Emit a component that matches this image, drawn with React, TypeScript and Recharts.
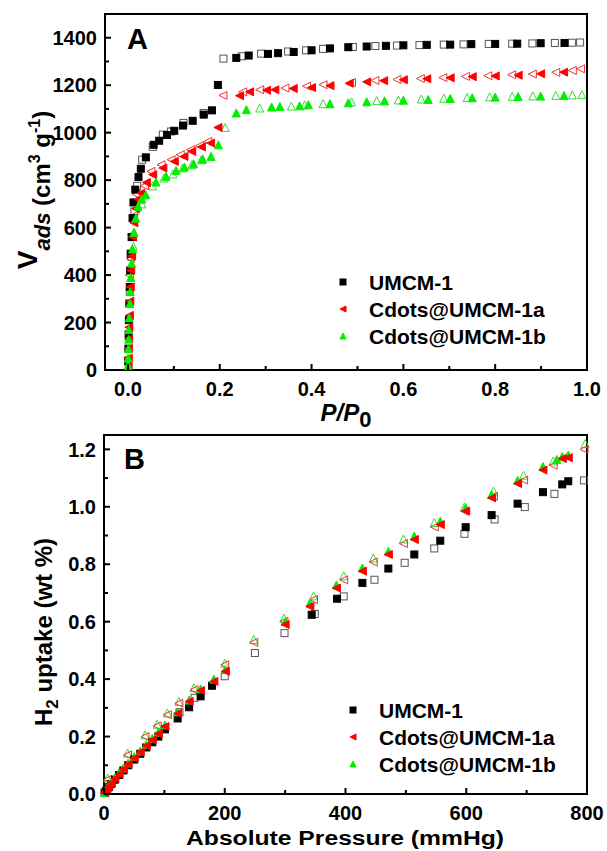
import React from 'react';
import {
  ScatterChart, Scatter, XAxis, YAxis, ReferenceArea, Legend
} from 'recharts';

const FONT = '"Liberation Sans", Arial, Helvetica, sans-serif';

const COLORS = {
  black: '#000000',
  blackOpen: '#555555',
  red: '#ff0000',
  redOpen: '#ee3333',
  green: '#00ee00',
  greenOpen: '#33dd33',
};

// ---- Panel A: N2 isotherm (P/P0, cm3 g-1) ----
const isoUmcmAds: [number, number][] = [
  [0.0005, 40], [0.001, 90], [0.0015, 150], [0.002, 210], [0.003, 280], [0.004, 350], [0.005, 420],
  [0.006, 490], [0.008, 560], [0.010, 640], [0.012, 706], [0.016, 760], [0.023, 813], [0.028, 848],
  [0.039, 896], [0.056, 949], [0.068, 966], [0.085, 990], [0.101, 1008], [0.12, 1030], [0.141, 1050],
  [0.165, 1076], [0.183, 1094], [0.196, 1201], [0.236, 1315], [0.263, 1325], [0.305, 1332], [0.327, 1335],
  [0.361, 1340], [0.40, 1347], [0.44, 1355], [0.48, 1360], [0.52, 1363], [0.562, 1366], [0.60, 1368],
  [0.651, 1370], [0.702, 1371], [0.748, 1373], [0.80, 1374], [0.848, 1375], [0.899, 1377], [0.951, 1378],
];
const isoUmcmDes: [number, number][] = [
  [0.985, 1380], [0.967, 1379], [0.93, 1378], [0.881, 1376], [0.837, 1375], [0.786, 1374], [0.731, 1372],
  [0.688, 1371], [0.635, 1369], [0.586, 1367], [0.539, 1365], [0.49, 1361], [0.425, 1353], [0.388, 1347],
  [0.349, 1342], [0.29, 1333], [0.248, 1322], [0.208, 1312], [0.165, 1083], [0.121, 1041], [0.094, 1005],
  [0.076, 992], [0.054, 940], [0.031, 886], [0.020, 776], [0.014, 668], [0.007, 478], [0.004, 330],
];
const isoAAds: [number, number][] = [
  [0.0003, 20], [0.0006, 50], [0.001, 90], [0.0015, 130], [0.002, 180], [0.003, 230], [0.004, 290],
  [0.005, 350], [0.006, 420], [0.008, 480], [0.010, 560], [0.013, 620], [0.017, 680], [0.022, 720],
  [0.028, 745], [0.04, 790], [0.054, 823], [0.076, 851], [0.101, 879], [0.122, 900], [0.139, 921],
  [0.16, 940], [0.18, 956], [0.196, 1022], [0.243, 1156], [0.265, 1172], [0.302, 1179], [0.32, 1181],
  [0.36, 1186], [0.40, 1190], [0.44, 1198], [0.482, 1208], [0.52, 1214], [0.557, 1219], [0.60, 1223],
  [0.651, 1227], [0.702, 1231], [0.75, 1236], [0.80, 1239], [0.85, 1242], [0.899, 1248], [0.949, 1255],
];
const isoADes: [number, number][] = [
  [0.986, 1269], [0.968, 1262], [0.932, 1254], [0.881, 1247], [0.836, 1244], [0.784, 1240], [0.735, 1237],
  [0.686, 1232], [0.637, 1228], [0.586, 1224], [0.538, 1220], [0.487, 1211], [0.425, 1202], [0.389, 1196],
  [0.342, 1188], [0.287, 1181], [0.25, 1172], [0.207, 1157], [0.174, 963], [0.156, 945], [0.136, 928],
  [0.114, 907], [0.094, 886], [0.072, 865], [0.05, 837], [0.036, 776], [0.018, 740], [0.012, 650],
  [0.008, 570], [0.005, 470], [0.003, 400],
];
const isoBAds: [number, number][] = [
  [0.0003, 20], [0.0006, 50], [0.001, 90], [0.0015, 130], [0.002, 170], [0.003, 220], [0.004, 280],
  [0.005, 330], [0.006, 390], [0.008, 450], [0.010, 510], [0.013, 580], [0.017, 640], [0.022, 690],
  [0.03, 720], [0.039, 738], [0.061, 792], [0.083, 816], [0.105, 841], [0.123, 855], [0.143, 869],
  [0.163, 889], [0.181, 900], [0.197, 949], [0.236, 1083], [0.258, 1097], [0.313, 1108], [0.331, 1110],
  [0.374, 1113], [0.393, 1118], [0.44, 1122], [0.48, 1126], [0.52, 1130], [0.559, 1134], [0.60, 1137],
  [0.654, 1140], [0.702, 1144], [0.75, 1147], [0.80, 1150], [0.85, 1152], [0.899, 1154], [0.95, 1157],
];
const isoBDes: [number, number][] = [
  [0.989, 1160], [0.968, 1159], [0.932, 1157], [0.882, 1155], [0.837, 1153], [0.788, 1151], [0.739, 1148],
  [0.688, 1145], [0.639, 1142], [0.589, 1138], [0.542, 1135], [0.487, 1130], [0.425, 1122], [0.385, 1117],
  [0.356, 1112], [0.287, 1104], [0.212, 1022], [0.16, 886], [0.139, 865], [0.119, 851], [0.098, 826],
  [0.078, 809], [0.054, 776], [0.03, 700], [0.012, 520], [0.006, 420],
];

// ---- Panel B: H2 uptake (mmHg, wt %) ----
const h2UmcmAds: [number, number][] = [
  [1, 0.004], [3, 0.01], [5, 0.016], [8, 0.024], [12, 0.035], [18, 0.05], [25, 0.066], [32, 0.082],
  [40, 0.1], [50, 0.12], [60, 0.14], [70, 0.162], [80, 0.18], [90, 0.2], [101, 0.225], [122, 0.263],
  [141, 0.302], [160, 0.34], [179, 0.377], [344, 0.624], [386, 0.68], [428, 0.735], [471, 0.785],
  [514, 0.834], [557, 0.882], [599, 0.929], [642, 0.971], [685, 1.011], [727, 1.051], [759, 1.078], [769, 1.089],
];
const h2UmcmDes: [number, number][] = [
  [795, 1.092], [746, 1.045], [697, 0.999], [647, 0.956], [597, 0.906], [547, 0.855], [498, 0.805],
  [448, 0.746], [397, 0.688], [349, 0.627], [299, 0.56], [250, 0.491], [200, 0.41], [150, 0.335], [125, 0.285],
];
const h2AAds: [number, number][] = [
  [1, 0.004], [3, 0.012], [5, 0.02], [8, 0.028], [12, 0.038], [18, 0.054], [25, 0.07], [32, 0.086],
  [40, 0.104], [50, 0.125], [60, 0.146], [70, 0.168], [80, 0.188], [90, 0.21], [101, 0.235], [122, 0.281],
  [141, 0.322], [160, 0.36], [182, 0.392], [201, 0.427], [300, 0.59], [341, 0.653], [385, 0.717],
  [428, 0.776], [471, 0.834], [514, 0.886], [557, 0.938], [599, 0.985], [642, 1.031], [685, 1.081],
  [727, 1.128], [759, 1.168], [769, 1.171],
];
const h2ADes: [number, number][] = [
  [795, 1.2], [744, 1.145], [695, 1.093], [645, 1.037], [597, 0.985], [547, 0.93], [496, 0.872],
  [446, 0.808], [397, 0.746], [347, 0.677], [298, 0.601], [248, 0.528], [200, 0.45], [149, 0.363],
  [124, 0.316], [105, 0.276], [88, 0.237], [68, 0.2], [39, 0.136], [6, 0.051],
];
const h2BAds: [number, number][] = [
  [1, 0.005], [3, 0.014], [5, 0.022], [8, 0.031], [12, 0.041], [18, 0.057], [25, 0.074], [32, 0.09],
  [40, 0.108], [50, 0.13], [60, 0.15], [70, 0.172], [80, 0.193], [90, 0.215], [101, 0.24], [122, 0.286],
  [141, 0.327], [160, 0.366], [182, 0.4], [201, 0.433], [300, 0.6], [341, 0.665], [385, 0.728],
  [428, 0.787], [471, 0.845], [514, 0.898], [557, 0.95], [599, 0.997], [642, 1.043], [685, 1.092],
  [727, 1.14], [750, 1.165], [759, 1.175], [769, 1.18],
];
const h2BDes: [number, number][] = [
  [797, 1.22], [744, 1.16], [695, 1.11], [645, 1.055], [597, 1.0], [547, 0.945], [496, 0.888],
  [446, 0.822], [397, 0.76], [347, 0.69], [298, 0.612], [248, 0.538], [200, 0.455], [149, 0.37],
  [124, 0.322], [105, 0.282], [88, 0.243], [68, 0.206], [39, 0.142], [6, 0.056],
];

const seriesNames = ['UMCM-1', 'Cdots@UMCM-1a', 'Cdots@UMCM-1b'];

const isoXTicks = [0, 0.1, 0.2, 0.3, 0.4, 0.5, 0.6, 0.7, 0.8, 0.9, 1.0];
const isoYTicks = [0, 100, 200, 300, 400, 500, 600, 700, 800, 900, 1000, 1100, 1200, 1300, 1400];
const h2XTicks = [0, 100, 200, 300, 400, 500, 600, 700, 800];
const h2YTicks = [0, 0.1, 0.2, 0.3, 0.4, 0.5, 0.6, 0.7, 0.8, 0.9, 1.0, 1.1, 1.2];

const toPts = (arr: [number, number][]) => arr.map(([x, y]) => ({ x, y }));

type Kind = 'square' | 'left' | 'up';

const Marker = ({ cx, cy, kind, color, filled, s }: any) => {
  if (cx == null || cy == null) return null;
  const h = s / 2;
  const common = {
    fill: filled ? color : 'none',
    stroke: color,
    strokeWidth: 1,
  };
  if (kind === 'square') return <rect x={cx - h} y={cy - h} width={s} height={s} {...common} />;
  if (kind === 'left') return <polygon points={`${cx - h},${cy} ${cx + h},${cy - h} ${cx + h},${cy + h}`} {...common} />;
  return <polygon points={`${cx},${cy - h} ${cx - h},${cy + h} ${cx + h},${cy + h}`} {...common} />;
};

const shape = (kind: Kind, color: string, filled: boolean, s: number) =>
  (props: any) => <Marker cx={props.cx} cy={props.cy} kind={kind} color={color} filled={filled} s={s} />;

const makeXTick = (isMajor: (v: number) => boolean, fmt: (v: number) => string) => (props: any) => {
  const { x, y, payload } = props;
  const v = payload.value;
  const major = isMajor(v);
  return (
    <g>
      <line x1={x} y1={y} x2={x} y2={y - (major ? 6 : 4)} stroke="#000" strokeWidth={2} />
      {major && (
        <text x={x} y={y + 26} textAnchor="middle" fontFamily={FONT} fontWeight="bold" fontSize={20} fill="#000">
          {fmt(v)}
        </text>
      )}
    </g>
  );
};

const makeYTick = (isMajor: (v: number) => boolean, fmt: (v: number) => string) => (props: any) => {
  const { x, y, payload } = props;
  const v = payload.value;
  const major = isMajor(v);
  return (
    <g>
      <line x1={x} y1={y} x2={x + (major ? 6 : 4)} y2={y} stroke="#000" strokeWidth={2} />
      {major && (
        <text x={x - 8} y={y} dy="0.36em" textAnchor="end" fontFamily={FONT} fontWeight="bold" fontSize={20} fill="#000">
          {fmt(v)}
        </text>
      )}
    </g>
  );
};

const LegendBox = () => {
  const kinds: Kind[] = ['square', 'left', 'up'];
  const cols = [COLORS.black, COLORS.red, COLORS.green];
  return (
    <svg width={250} height={84}>
      {seriesNames.map((n, i) => (
        <g key={n}>
          <Marker cx={13} cy={14 + i * 27} kind={kinds[i]} color={cols[i]} filled s={6} />
          <text x={39} y={14 + i * 27} dy="0.36em" fontFamily={FONT} fontWeight="bold" fontSize={21} fill="#000">{n}</text>
        </g>
      ))}
    </svg>
  );
};

const textStyle = { fontFamily: FONT, fontWeight: 'bold' as const, fill: '#000' };

const IsothermChart = () => (
  <ScatterChart width={607} height={440} margin={{ top: 14, right: 20, bottom: 0, left: 0 }}>
    <XAxis
      type="number" dataKey="x" domain={[-0.05, 1.0]} ticks={isoXTicks} interval={0}
      tickSize={0} tickMargin={0} axisLine={false} tickLine={false}
      tick={makeXTick((v) => Math.round(v * 10) % 2 === 0, (v) => v.toFixed(1))}
      height={70}
      label={{
        content: () => (
          <text x={346} y={421} textAnchor="middle" {...textStyle} fontSize={24}>
            <tspan fontStyle="italic">P/P</tspan>
            <tspan dy={6} fontSize={22}>0</tspan>
          </text>
        ),
      }}
    />
    <YAxis
      type="number" dataKey="y" domain={[0, 1500]} ticks={isoYTicks} interval={0}
      tickSize={0} tickMargin={0} axisLine={false} tickLine={false}
      tick={makeYTick((v) => v % 200 === 0, (v) => String(v))}
      width={105}
      label={{
        content: () => (
          <text transform="translate(50,190) rotate(-90)" x={0} y={0} textAnchor="middle" {...textStyle} fontSize={24}>
            <tspan fontSize={28} dy={-13}>V</tspan>
            <tspan fontStyle="italic" fontSize={22} dy={13}>ads</tspan>
            <tspan> (cm</tspan>
            <tspan fontSize={16} dy={-10}>3</tspan>
            <tspan dy={10}> g</tspan>
            <tspan fontSize={16} dy={-10}>-1</tspan>
            <tspan dy={10}>)</tspan>
          </text>
        ),
      }}
    />
    <ReferenceArea x1={-0.05} x2={1.0} y1={0} y2={1500} fill="none" stroke="#000" strokeWidth={2} ifOverflow="visible"
      label={{ content: () => <text x={127} y={49} {...textStyle} fontSize={29}>A</text> }} />
    <Legend layout="horizontal" verticalAlign="middle" align="center" content={() => <LegendBox />}
      wrapperStyle={{ position: 'absolute', left: 330, top: 268, width: 250, height: 84 }} />
    <Scatter name={seriesNames[0]} data={toPts(isoUmcmDes)} shape={shape('square', COLORS.blackOpen, false, 7)} isAnimationActive={false} legendType="none" />
    <Scatter name={seriesNames[1]} data={toPts(isoADes)} shape={shape('left', COLORS.redOpen, false, 8)} isAnimationActive={false} legendType="none" />
    <Scatter name={seriesNames[2]} data={toPts(isoBDes)} shape={shape('up', COLORS.greenOpen, false, 8)} isAnimationActive={false} legendType="none" />
    <Scatter name={seriesNames[0]} data={toPts(isoUmcmAds)} shape={shape('square', COLORS.black, true, 7)} isAnimationActive={false} />
    <Scatter name={seriesNames[1]} data={toPts(isoAAds)} shape={shape('left', COLORS.red, true, 8)} isAnimationActive={false} />
    <Scatter name={seriesNames[2]} data={toPts(isoBAds)} shape={shape('up', COLORS.green, true, 8)} isAnimationActive={false} />
  </ScatterChart>
);

const H2Chart = () => (
  <ScatterChart width={607} height={451} margin={{ top: 35, right: 20, bottom: 0, left: 0 }}>
    <XAxis
      type="number" dataKey="x" domain={[0, 800]} ticks={h2XTicks} interval={0}
      tickSize={0} tickMargin={0} axisLine={false} tickLine={false}
      tick={makeXTick((v) => v % 200 === 0, (v) => String(v))}
      height={57}
      label={{
        content: () => (
          <text x={345} y={445} textAnchor="middle" {...textStyle} fontSize={20}
            textLength={318} lengthAdjust="spacingAndGlyphs">Absolute Pressure (mmHg)</text>
        ),
      }}
    />
    <YAxis
      type="number" dataKey="y" domain={[0, 1.25]} ticks={h2YTicks} interval={0}
      tickSize={0} tickMargin={0} axisLine={false} tickLine={false}
      tick={makeYTick((v) => Math.round(v * 10) % 2 === 0, (v) => v.toFixed(1))}
      width={104}
      label={{
        content: () => (
          <text transform="translate(52,232) rotate(-90)" x={0} y={0} textAnchor="middle" {...textStyle} fontSize={24}>
            <tspan>H</tspan>
            <tspan fontSize={17} dy={6}>2</tspan>
            <tspan dy={-6}> uptake (wt %)</tspan>
          </text>
        ),
      }}
    />
    <ReferenceArea x1={0} x2={800} y1={0} y2={1.25} fill="none" stroke="#000" strokeWidth={2} ifOverflow="visible"
      label={{ content: () => <text x={124} y={69} {...textStyle} fontSize={29}>B</text> }} />
    <Legend layout="horizontal" verticalAlign="middle" align="center" content={() => <LegendBox />}
      wrapperStyle={{ position: 'absolute', left: 340, top: 296, width: 250, height: 84 }} />
    <Scatter name={seriesNames[0]} data={toPts(h2UmcmDes)} shape={shape('square', COLORS.blackOpen, false, 7)} isAnimationActive={false} legendType="none" />
    <Scatter name={seriesNames[2]} data={toPts(h2BDes)} shape={shape('up', COLORS.greenOpen, false, 8)} isAnimationActive={false} legendType="none" />
    <Scatter name={seriesNames[1]} data={toPts(h2ADes)} shape={shape('left', COLORS.redOpen, false, 8)} isAnimationActive={false} legendType="none" />
    <Scatter name={seriesNames[0]} data={toPts(h2UmcmAds)} shape={shape('square', COLORS.black, true, 7)} isAnimationActive={false} />
    <Scatter name={seriesNames[2]} data={toPts(h2BAds)} shape={shape('up', COLORS.green, true, 8)} isAnimationActive={false} />
    <Scatter name={seriesNames[1]} data={toPts(h2AAds)} shape={shape('left', COLORS.red, true, 8)} isAnimationActive={false} />
  </ScatterChart>
);

export default function App() {
  return (
    <div style={{ position: 'absolute', left: 0, top: 0, width: 607, height: 851, background: '#fff', overflow: 'hidden' }}>
      <div style={{ position: 'absolute', left: 0, top: 0 }}>
        <IsothermChart />
      </div>
      <div style={{ position: 'absolute', left: 0, top: 400 }}>
        <H2Chart />
      </div>
    </div>
  );
}
